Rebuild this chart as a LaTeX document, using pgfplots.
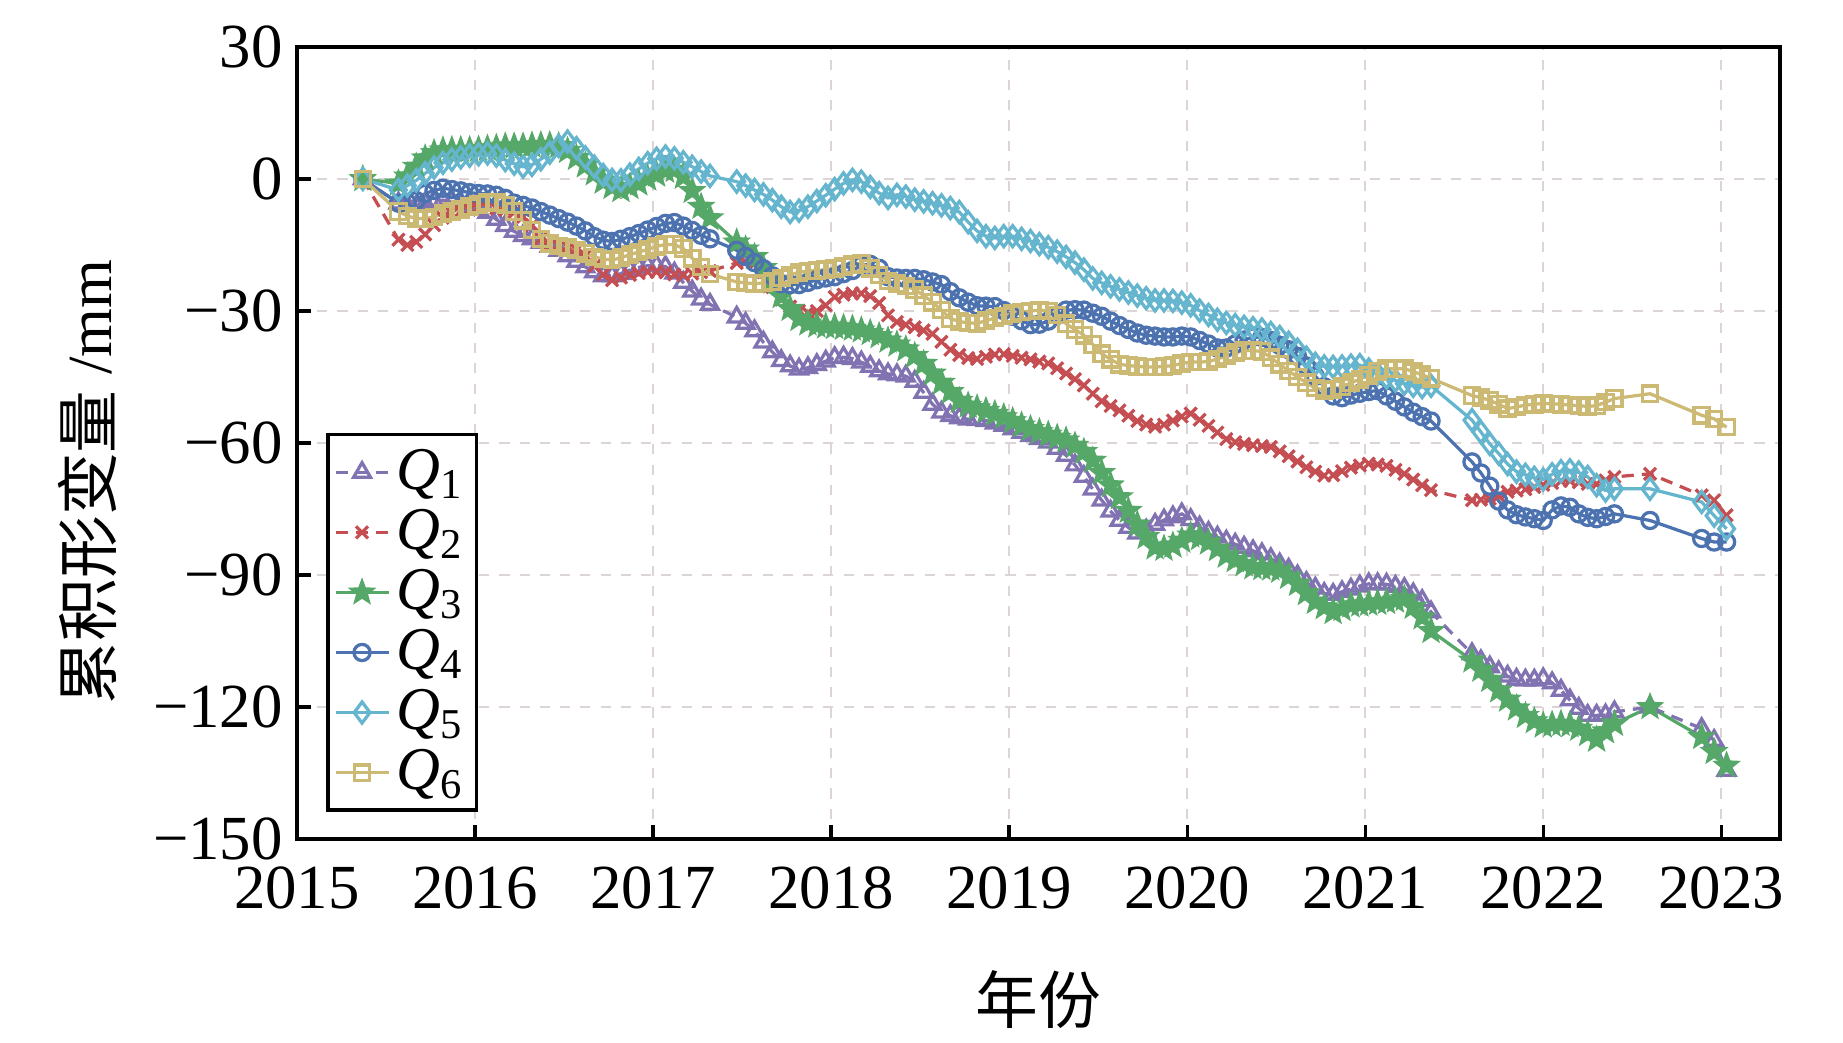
\documentclass[border=0pt]{standalone}
\usepackage{fontspec}
\setmainfont{Liberation Serif}
\newfontfamily\cjk{Noto Sans CJK SC}
\usepackage{pgfplots}
\usepackage{pgfplotstable}
\pgfplotsset{compat=1.18}

\definecolor{cQa}{HTML}{8172B2}
\definecolor{cQb}{HTML}{C44E52}
\definecolor{cQc}{HTML}{55A868}
\definecolor{cQd}{HTML}{4C72B0}
\definecolor{cQe}{HTML}{64B5CD}
\definecolor{cQf}{HTML}{CCB974}
\definecolor{gridc}{RGB}{221,213,213}

% filled five-pointed star
\pgfdeclareplotmark{fstar}{%
  \pgfpathmoveto{\pgfpointpolar{90}{\pgfplotmarksize}}%
  \pgfpathlineto{\pgfpointpolar{126}{0.42\pgfplotmarksize}}%
  \pgfpathlineto{\pgfpointpolar{162}{\pgfplotmarksize}}%
  \pgfpathlineto{\pgfpointpolar{198}{0.42\pgfplotmarksize}}%
  \pgfpathlineto{\pgfpointpolar{234}{\pgfplotmarksize}}%
  \pgfpathlineto{\pgfpointpolar{270}{0.42\pgfplotmarksize}}%
  \pgfpathlineto{\pgfpointpolar{306}{\pgfplotmarksize}}%
  \pgfpathlineto{\pgfpointpolar{342}{0.42\pgfplotmarksize}}%
  \pgfpathlineto{\pgfpointpolar{18}{\pgfplotmarksize}}%
  \pgfpathlineto{\pgfpointpolar{54}{0.42\pgfplotmarksize}}%
  \pgfpathclose
  \pgfusepathqfillstroke
}

\pgfplotstableread{
t q1 q2 q3 q4 q5 q6
2015.37 0 0 0 0 0 0
2015.57 -5.5 -13.8 -1.0 -5.5 -2.5 -7.4
2015.62 -6.0 -15.0 0.6 -5.4 -1.5 -8.4
2015.67 -6.2 -14.3 2.8 -4.9 -0.3 -9.0
2015.72 -5.5 -12.6 4.7 -3.3 1.3 -9.0
2015.77 -5.0 -10.5 5.9 -2.6 2.6 -8.6
2015.82 -4.8 -8.8 6.5 -2.1 3.7 -7.9
2015.87 -5.1 -7.8 6.6 -2.4 4.4 -7.4
2015.92 -5.6 -7.3 6.6 -2.7 4.9 -7.0
2015.97 -6.3 -7.0 6.6 -3.1 5.3 -6.3
2016.02 -6.9 -6.5 6.7 -3.3 5.6 -5.8
2016.07 -7.6 -6.4 6.9 -3.4 5.8 -5.3
2016.12 -9.2 -6.7 7.1 -3.7 5.3 -5.4
2016.17 -10.6 -7.0 7.4 -4.4 4.3 -5.9
2016.22 -11.9 -7.6 7.4 -5.5 3.5 -7.4
2016.27 -12.9 -8.6 7.4 -6.0 2.8 -9.4
2016.32 -13.6 -10.5 7.6 -6.6 3.2 -11.6
2016.37 -14.4 -13.6 7.7 -7.4 4.5 -13.6
2016.42 -15.3 -14.9 7.7 -8.2 6.0 -14.6
2016.47 -16.2 -15.1 7.5 -9.0 7.5 -15.2
2016.52 -17.5 -15.4 6.4 -9.8 8.5 -15.6
2016.57 -18.7 -16.1 4.8 -10.7 7.0 -16.1
2016.62 -20.0 -17.4 3.1 -11.8 4.9 -16.9
2016.67 -21.1 -19.8 1.3 -13.1 2.8 -17.7
2016.72 -22.0 -21.7 -0.6 -13.9 0.9 -18.2
2016.77 -22.0 -23.0 -1.8 -14.2 -0.2 -18.4
2016.82 -21.5 -22.4 -2.5 -13.7 -0.3 -17.9
2016.87 -20.7 -21.8 -1.8 -13.1 1.0 -17.2
2016.92 -20.1 -21.4 -1.0 -12.4 2.3 -16.6
2016.97 -19.7 -21.1 0.1 -11.6 3.6 -16.0
2017.02 -19.7 -21.1 1.0 -10.8 4.6 -15.3
2017.07 -19.9 -21.2 1.9 -10.1 5.1 -14.9
2017.12 -21.4 -21.7 2.1 -9.9 4.7 -14.9
2017.17 -23.5 -21.8 0.5 -10.7 3.8 -15.8
2017.22 -25.5 -21.5 -2.7 -11.7 2.8 -18.0
2017.27 -27.3 -21.2 -6.3 -12.8 1.7 -20.0
2017.32 -28.5 -20.9 -8.9 -13.6 0.7 -21.6
2017.47 -31.4 -19.1 -14.4 -16.2 -0.6 -23.4
2017.52 -32.8 -18.8 -16.0 -17.6 -1.5 -23.6
2017.57 -34.5 -19.2 -17.7 -19.0 -2.5 -23.8
2017.62 -37.1 -21.2 -20.2 -20.4 -3.5 -23.6
2017.67 -39.3 -24.6 -23.3 -22.0 -4.8 -23.3
2017.72 -41.3 -27.4 -26.6 -23.8 -6.3 -22.5
2017.77 -42.5 -29.0 -29.5 -24.0 -7.5 -21.8
2017.82 -43.2 -29.9 -31.8 -24.0 -7.2 -21.2
2017.87 -42.9 -30.4 -32.8 -23.5 -6.3 -20.9
2017.92 -42.2 -30.0 -33.3 -22.9 -5.0 -20.8
2017.97 -41.4 -28.7 -33.5 -22.5 -3.7 -20.6
2018.02 -40.6 -26.8 -33.6 -22.2 -2.3 -20.3
2018.07 -40.5 -26.3 -33.8 -21.5 -1.0 -19.9
2018.12 -40.8 -26.0 -34.0 -20.8 -0.2 -19.5
2018.17 -41.6 -26.0 -34.4 -19.6 -0.6 -19.2
2018.22 -42.6 -26.6 -35.0 -19.4 -1.8 -20.3
2018.27 -43.6 -28.2 -35.7 -20.3 -3.2 -21.8
2018.32 -44.3 -31.0 -36.7 -22.2 -4.3 -23.2
2018.37 -44.5 -32.5 -37.6 -22.5 -3.6 -23.8
2018.42 -44.8 -33.1 -38.7 -22.6 -4.0 -24.3
2018.47 -46.0 -33.7 -40.2 -22.6 -4.7 -25.1
2018.52 -48.5 -34.4 -42.0 -22.9 -5.1 -26.5
2018.57 -51.2 -35.2 -44.2 -23.4 -5.5 -28.0
2018.62 -53.0 -37.0 -46.3 -24.0 -6.0 -29.8
2018.67 -53.8 -38.8 -48.4 -25.6 -6.6 -31.7
2018.72 -54.3 -40.0 -50.4 -27.0 -7.5 -32.4
2018.77 -54.6 -40.7 -51.5 -28.0 -9.8 -32.7
2018.82 -54.7 -40.9 -52.1 -28.8 -11.8 -32.8
2018.87 -54.9 -40.4 -52.7 -28.9 -13.0 -32.2
2018.92 -55.5 -39.9 -53.4 -29.0 -13.4 -31.6
2018.97 -56.0 -39.8 -54.1 -29.9 -13.0 -31.1
2019.02 -56.8 -40.2 -55.0 -31.2 -13.0 -30.6
2019.07 -57.6 -40.6 -56.0 -32.2 -13.6 -30.2
2019.12 -58.3 -41.0 -56.8 -33.1 -14.1 -30.0
2019.17 -59.0 -41.5 -57.5 -33.0 -14.8 -29.8
2019.22 -59.8 -41.9 -58.1 -32.3 -15.5 -30.0
2019.27 -61.2 -43.0 -58.8 -31.0 -16.5 -30.9
2019.32 -62.8 -44.2 -59.4 -29.8 -17.7 -32.9
2019.37 -65.0 -45.5 -60.6 -29.7 -19.0 -34.2
2019.42 -67.6 -46.9 -62.0 -29.8 -20.6 -35.5
2019.47 -70.5 -48.8 -64.0 -30.5 -22.6 -37.6
2019.52 -73.0 -50.5 -66.8 -31.2 -23.6 -39.7
2019.57 -75.5 -51.6 -69.6 -32.3 -24.4 -41.0
2019.62 -77.6 -52.6 -72.3 -33.3 -25.1 -42.1
2019.67 -79.2 -53.8 -75.4 -34.2 -25.8 -42.4
2019.72 -80.5 -55.0 -78.5 -35.0 -26.5 -42.6
2019.77 -79.8 -55.8 -81.3 -35.5 -27.1 -42.7
2019.82 -78.5 -56.3 -83.7 -35.7 -27.6 -42.7
2019.87 -77.5 -55.8 -84.0 -35.9 -27.6 -42.6
2019.92 -76.8 -54.9 -83.3 -35.9 -27.7 -42.4
2019.97 -76.1 -54.0 -82.2 -35.7 -28.1 -41.9
2020.02 -77.4 -53.3 -81.0 -35.9 -28.7 -41.6
2020.07 -79.1 -54.7 -81.6 -36.7 -29.9 -41.6
2020.12 -80.3 -56.1 -82.6 -37.5 -30.9 -41.5
2020.17 -81.4 -57.6 -84.1 -38.4 -32.0 -40.9
2020.22 -82.3 -59.1 -85.6 -38.4 -32.7 -40.2
2020.27 -83.0 -59.8 -86.6 -37.5 -33.2 -39.5
2020.32 -83.7 -60.2 -87.5 -36.6 -33.6 -39.0
2020.37 -84.5 -60.5 -88.2 -35.9 -33.9 -39.0
2020.42 -85.2 -60.7 -88.4 -36.0 -34.2 -39.2
2020.47 -86.3 -60.9 -88.5 -36.7 -35.0 -40.6
2020.52 -87.5 -61.9 -89.0 -37.8 -35.9 -42.1
2020.57 -88.7 -63.0 -90.4 -38.8 -37.2 -43.6
2020.62 -90.2 -64.2 -92.0 -40.3 -38.8 -45.0
2020.67 -91.7 -65.5 -94.1 -42.5 -40.6 -46.3
2020.72 -93.0 -66.5 -96.1 -44.8 -42.0 -47.5
2020.77 -94.2 -67.4 -97.3 -47.2 -42.6 -48.0
2020.82 -94.4 -67.3 -98.4 -49.3 -42.7 -47.8
2020.87 -93.8 -66.4 -97.7 -49.7 -42.6 -47.2
2020.92 -93.2 -65.6 -96.9 -49.1 -42.4 -46.3
2020.97 -92.5 -65.1 -96.7 -48.7 -42.3 -45.5
2021.02 -92.0 -64.7 -96.5 -48.3 -43.3 -44.6
2021.07 -92.0 -64.9 -96.3 -48.1 -44.3 -43.7
2021.12 -92.1 -65.2 -96.1 -49.3 -45.1 -43.1
2021.17 -92.6 -66.1 -95.8 -50.5 -45.8 -43.1
2021.22 -93.1 -67.0 -95.4 -51.8 -46.5 -43.1
2021.27 -94.3 -68.3 -97.2 -53.0 -47.0 -43.8
2021.32 -95.8 -69.6 -99.6 -54.0 -47.3 -44.5
2021.37 -98.4 -70.7 -102.7 -55.0 -47.0 -45.3
2021.60 -107.9 -73.0 -109.4 -64.3 -54.8 -49.2
2021.65 -109.5 -72.9 -111.5 -66.8 -57.5 -49.7
2021.70 -110.9 -72.7 -113.8 -69.8 -60.2 -50.3
2021.75 -112.0 -72.0 -116.2 -73.2 -62.4 -51.2
2021.80 -113.0 -71.1 -118.3 -75.2 -64.8 -52.2
2021.85 -113.7 -70.8 -120.3 -76.3 -66.5 -51.8
2021.90 -113.9 -70.5 -122.0 -76.8 -67.2 -51.4
2021.95 -113.9 -70.0 -123.2 -77.2 -67.9 -51.2
2022.00 -113.6 -69.5 -124.2 -77.6 -68.3 -51.0
2022.05 -114.5 -69.1 -124.0 -75.2 -67.1 -51.1
2022.10 -116.2 -68.6 -123.8 -74.3 -66.4 -51.2
2022.15 -118.4 -68.6 -124.1 -74.6 -66.2 -51.4
2022.20 -120.3 -68.9 -124.9 -76.1 -66.7 -51.5
2022.25 -121.9 -69.3 -126.1 -76.9 -67.7 -51.7
2022.30 -121.9 -69.3 -127.4 -77.2 -69.6 -51.5
2022.35 -121.8 -68.5 -125.5 -76.7 -70.8 -50.7
2022.40 -121.1 -67.7 -123.8 -76.1 -70.4 -49.9
2022.60 -120.0 -67.0 -120.0 -77.6 -70.4 -48.8
2022.89 -124.9 -71.9 -126.8 -81.7 -73.4 -53.7
2022.96 -127.6 -73.0 -130.2 -82.5 -76.5 -54.5
2023.03 -134.4 -76.4 -133.3 -82.5 -79.5 -56.4
}\deform

\begin{document}
\begin{tikzpicture}
  \begin{axis}[
    name=ax,
    scale only axis,
    width=12.874cm, height=6.876cm,
    xmin=2015, xmax=2023.33,
    ymin=-150, ymax=30,
    xtick={2015,2016,...,2023},
    ytick={-150,-120,-90,-60,-30,0,30},
    yticklabels={−150,−120,−90,−60,−30,0,30},
    xticklabel style={/pgf/number format/1000 sep={}, yshift=-0.12cm},
    /pgf/number format/assume math mode=true,
    tick align=inside,
    xtick pos=bottom, ytick pos=left,
    major tick length=0.12cm,
    tick style={black, line width=0.8pt},
    axis line style={line width=1.1pt},
    grid=major,
    grid style={dash pattern=on 2.5pt off 2.5pt, line width=0.6pt, gridc},
    ticklabel style={font=\fontsize{15.5}{18}\selectfont},
    label style={font=\fontsize{15.5}{18}\selectfont},
    xlabel={\cjk 年份},
    ylabel={{\cjk 累积形变量} /mm},
    xlabel style={at={(axis description cs:0.5,-0.203)}, anchor=center},
    ylabel style={at={(axis description cs:-0.141,0.451)}, anchor=center},
    every axis plot/.append style={line width=0.8pt},
    legend image code/.code={\draw[mark repeat=2,mark phase=2,#1] plot coordinates {(0cm,0cm) (0.23cm,0cm) (0.46cm,0cm)};},
    legend cell align=left,
    legend style={at={(0.0196,0.034)}, anchor=south west, draw=black, line width=0.9pt,
      font=\fontsize{15}{15}\selectfont, nodes={inner sep=1.6pt}, row sep=0.2pt,
      inner xsep=1.5pt, inner ysep=2pt},
  ]
    \addplot[cQa, dash pattern=on 3pt off 2pt, mark=triangle, mark size=2.4pt, mark options={solid}] table[x=t, y=q1] {\deform};
    \addplot[cQb, dash pattern=on 3pt off 2pt, mark=x, mark size=2.1pt, mark options={solid}] table[x=t, y=q2] {\deform};
    \addplot[cQc, mark=fstar, mark size=2.6pt, mark options={solid, fill=cQc}] table[x=t, y=q3] {\deform};
    \addplot[cQd, mark=o, mark size=2pt] table[x=t, y=q4] {\deform};
    \addplot[cQe, mark=diamond, mark size=2.6pt] table[x=t, y=q5] {\deform};
    \addplot[cQf, mark=square, mark size=1.9pt] table[x=t, y=q6] {\deform};
    \legend{\textit{Q}\textsubscript{1}, \textit{Q}\textsubscript{2}, \textit{Q}\textsubscript{3}, \textit{Q}\textsubscript{4}, \textit{Q}\textsubscript{5}, \textit{Q}\textsubscript{6}}
  \end{axis}
  \path (ax.south west) +(-2.578cm,-1.736cm) (ax.north east) +(0.547cm,0.408cm);
\end{tikzpicture}
\end{document}
